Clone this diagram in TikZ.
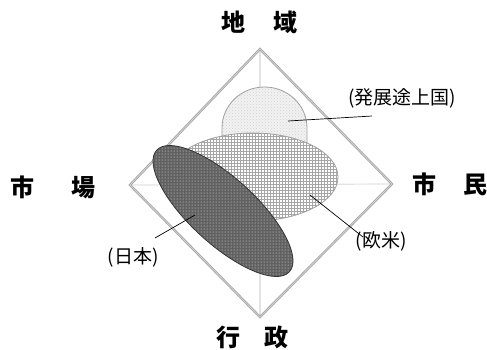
\documentclass[tikz,border=0pt]{standalone}
\usepackage{fontspec}
\newfontfamily\jp{Noto Sans CJK JP}
\usetikzlibrary{patterns}
\tikzset{
  axis/.style={draw=gray!22, line width=1.2pt},
  frame/.style={draw=gray!70, line width=0.9pt, double=gray!30, double distance=0.6pt},
  big/.style={inner sep=0pt, font=\jp\bfseries\fontsize{24pt}{24pt}\selectfont},
  small/.style={inner sep=0pt, font=\jp\fontsize{19pt}{19pt}\selectfont},
  leader/.style={draw=black, line width=0.7pt},
  outline/.style={draw=gray!75, line width=0.8pt}
}
\begin{document}
\begin{tikzpicture}[x=1pt, y=-1pt]
\useasboundingbox (0,0) rectangle (487,349);
% vertices
\coordinate (T) at (260,49);
\coordinate (R) at (392,184);
\coordinate (B) at (260,317);
\coordinate (L) at (130,185);
% axes
\draw[axis] (T) -- (B);
\draw[axis] (L) -- (R);
% frame
\draw[frame] (T) -- (R) -- (B) -- (L) -- cycle;
% dome (developing countries)
\path[outline, preaction={fill=gray!10}, pattern=crosshatch dots, pattern color=gray!35]
  (222,165) -- (222,128) arc[start angle=180, end angle=0, x radius=42.5pt, y radius=41pt] -- (307,165) -- cycle;
% Europe/US ellipse
\path[outline, preaction={fill=white}, pattern=grid, pattern color=gray!70]
  (253,177) ellipse[x radius=85pt, y radius=44pt];
% Japan ellipse
\begin{scope}[shift={(223,211)}, rotate=-42.5]
\path[draw=gray!40!black, line width=0.8pt, preaction={fill=black!62}, pattern=dots, pattern color=white!85!gray]
  (0,0) ellipse[x radius=90pt, y radius=33pt];
\end{scope}
% leader end points
\coordinate (d1) at (288,121);
\coordinate (d2) at (372,116);
\coordinate (e1) at (310,195);
\coordinate (e2) at (363,237);
\coordinate (j1) at (195,215);
\coordinate (j2) at (155,238);
\draw[leader] (d1) -- (d2);
\draw[leader] (e1) -- (e2);
\draw[leader] (j1) -- (j2);
% labels
\node[small] (lbldev) at (402,98) {(発展途上国)};
\node[small] (lbleu) at (381,241) {(欧米)};
\node[small] (lbljp) at (133,257) {(日本)};
\node[big] (chiiki) at (259.5,22) {地\hspace{29pt}域};
\node[big] (gyosei) at (252.5,337) {行\hspace{25pt}政};
\node[big] (shijo) at (53,187) {市\hspace{38pt}場};
\node[big] (shimin) at (449.5,184) {市\hspace{27pt}民};
\end{tikzpicture}
\end{document}
